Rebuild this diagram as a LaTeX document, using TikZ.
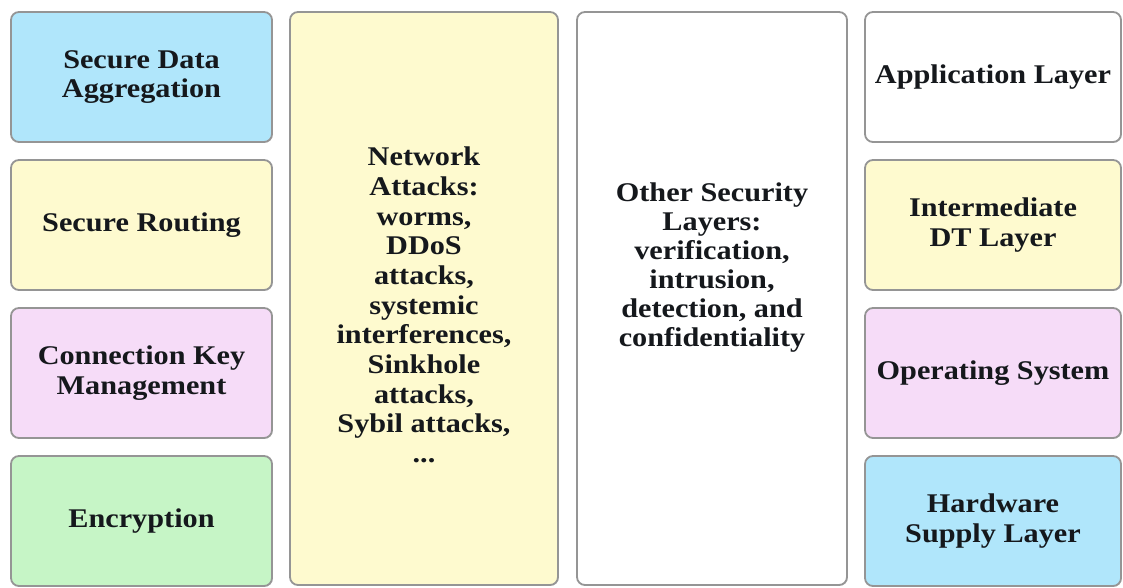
\documentclass[tikz,border=0pt]{standalone}
\usepackage{fontspec}
\setmainfont{Liberation Serif}[FakeStretch=1.12]
\usetikzlibrary{shadows}
\definecolor{cblue}{HTML}{B0E6FB}
\definecolor{cyellow}{HTML}{FEFACF}
\definecolor{cpink}{HTML}{F6DCF8}
\definecolor{cgreen}{HTML}{C6F5C6}
\definecolor{boxgray}{HTML}{959595}
\definecolor{txt}{HTML}{15181C}
\begin{document}
\begin{tikzpicture}[x=1pt,y=-1pt,
  box/.style={draw=boxgray, line width=1.8pt, rounded corners=8pt,
    drop shadow={shadow xshift=0.8pt,shadow yshift=-0.8pt,opacity=0.35},
    font=\bfseries\fontsize{27}{29.5}\selectfont, text=txt, align=center, inner sep=0pt},
  small/.style={box, minimum height=130pt},
  leftbox/.style={small, minimum width=261pt},
  rightbox/.style={small, minimum width=256pt},
  lbl/.style={font=\bfseries\fontsize{27}{29.7}\selectfont, text=txt, align=center, inner sep=0pt}
]
\useasboundingbox (0,0) rectangle (1123,587);
% left column
\node[leftbox, fill=cblue]   (sda) at (141.5,77)  {Secure Data\\Aggregation};
\node[leftbox, fill=cyellow] (sr)  at (141.5,225) {Secure Routing};
\node[leftbox, fill=cpink]   (ckm) at (141.5,373) {Connection Key\\Management};
\node[leftbox, fill=cgreen]  (enc) at (141.5,521) {Encryption};
% network attacks column
\node[box, fill=cyellow, minimum width=268pt, minimum height=573pt] (na) at (424,298.5) {};
\node[lbl] (natext) at (424,305) {Network\\Attacks:\\worms,\\DDoS\\attacks,\\systemic\\interferences,\\Sinkhole\\attacks,\\Sybil attacks,\\...};
% other security layers column
\node[box, fill=white, minimum width=270pt, minimum height=573pt] (osl) at (712,298.5) {};
\node[lbl, font=\bfseries\fontsize{27}{29}\selectfont] (osltext) at (712,268) {Other Security\\Layers:\\verification,\\intrusion,\\detection, and\\confidentiality};
% right column
\node[rightbox, fill=white]   (app) at (993,77)  {Application Layer};
\node[rightbox, fill=cyellow] (idt) at (993,225) {Intermediate\\DT Layer};
\node[rightbox, fill=cpink]   (os)  at (993,373) {Operating System};
\node[rightbox, fill=cblue]   (hw)  at (993,521) {Hardware\\Supply Layer};
\end{tikzpicture}
\end{document}
